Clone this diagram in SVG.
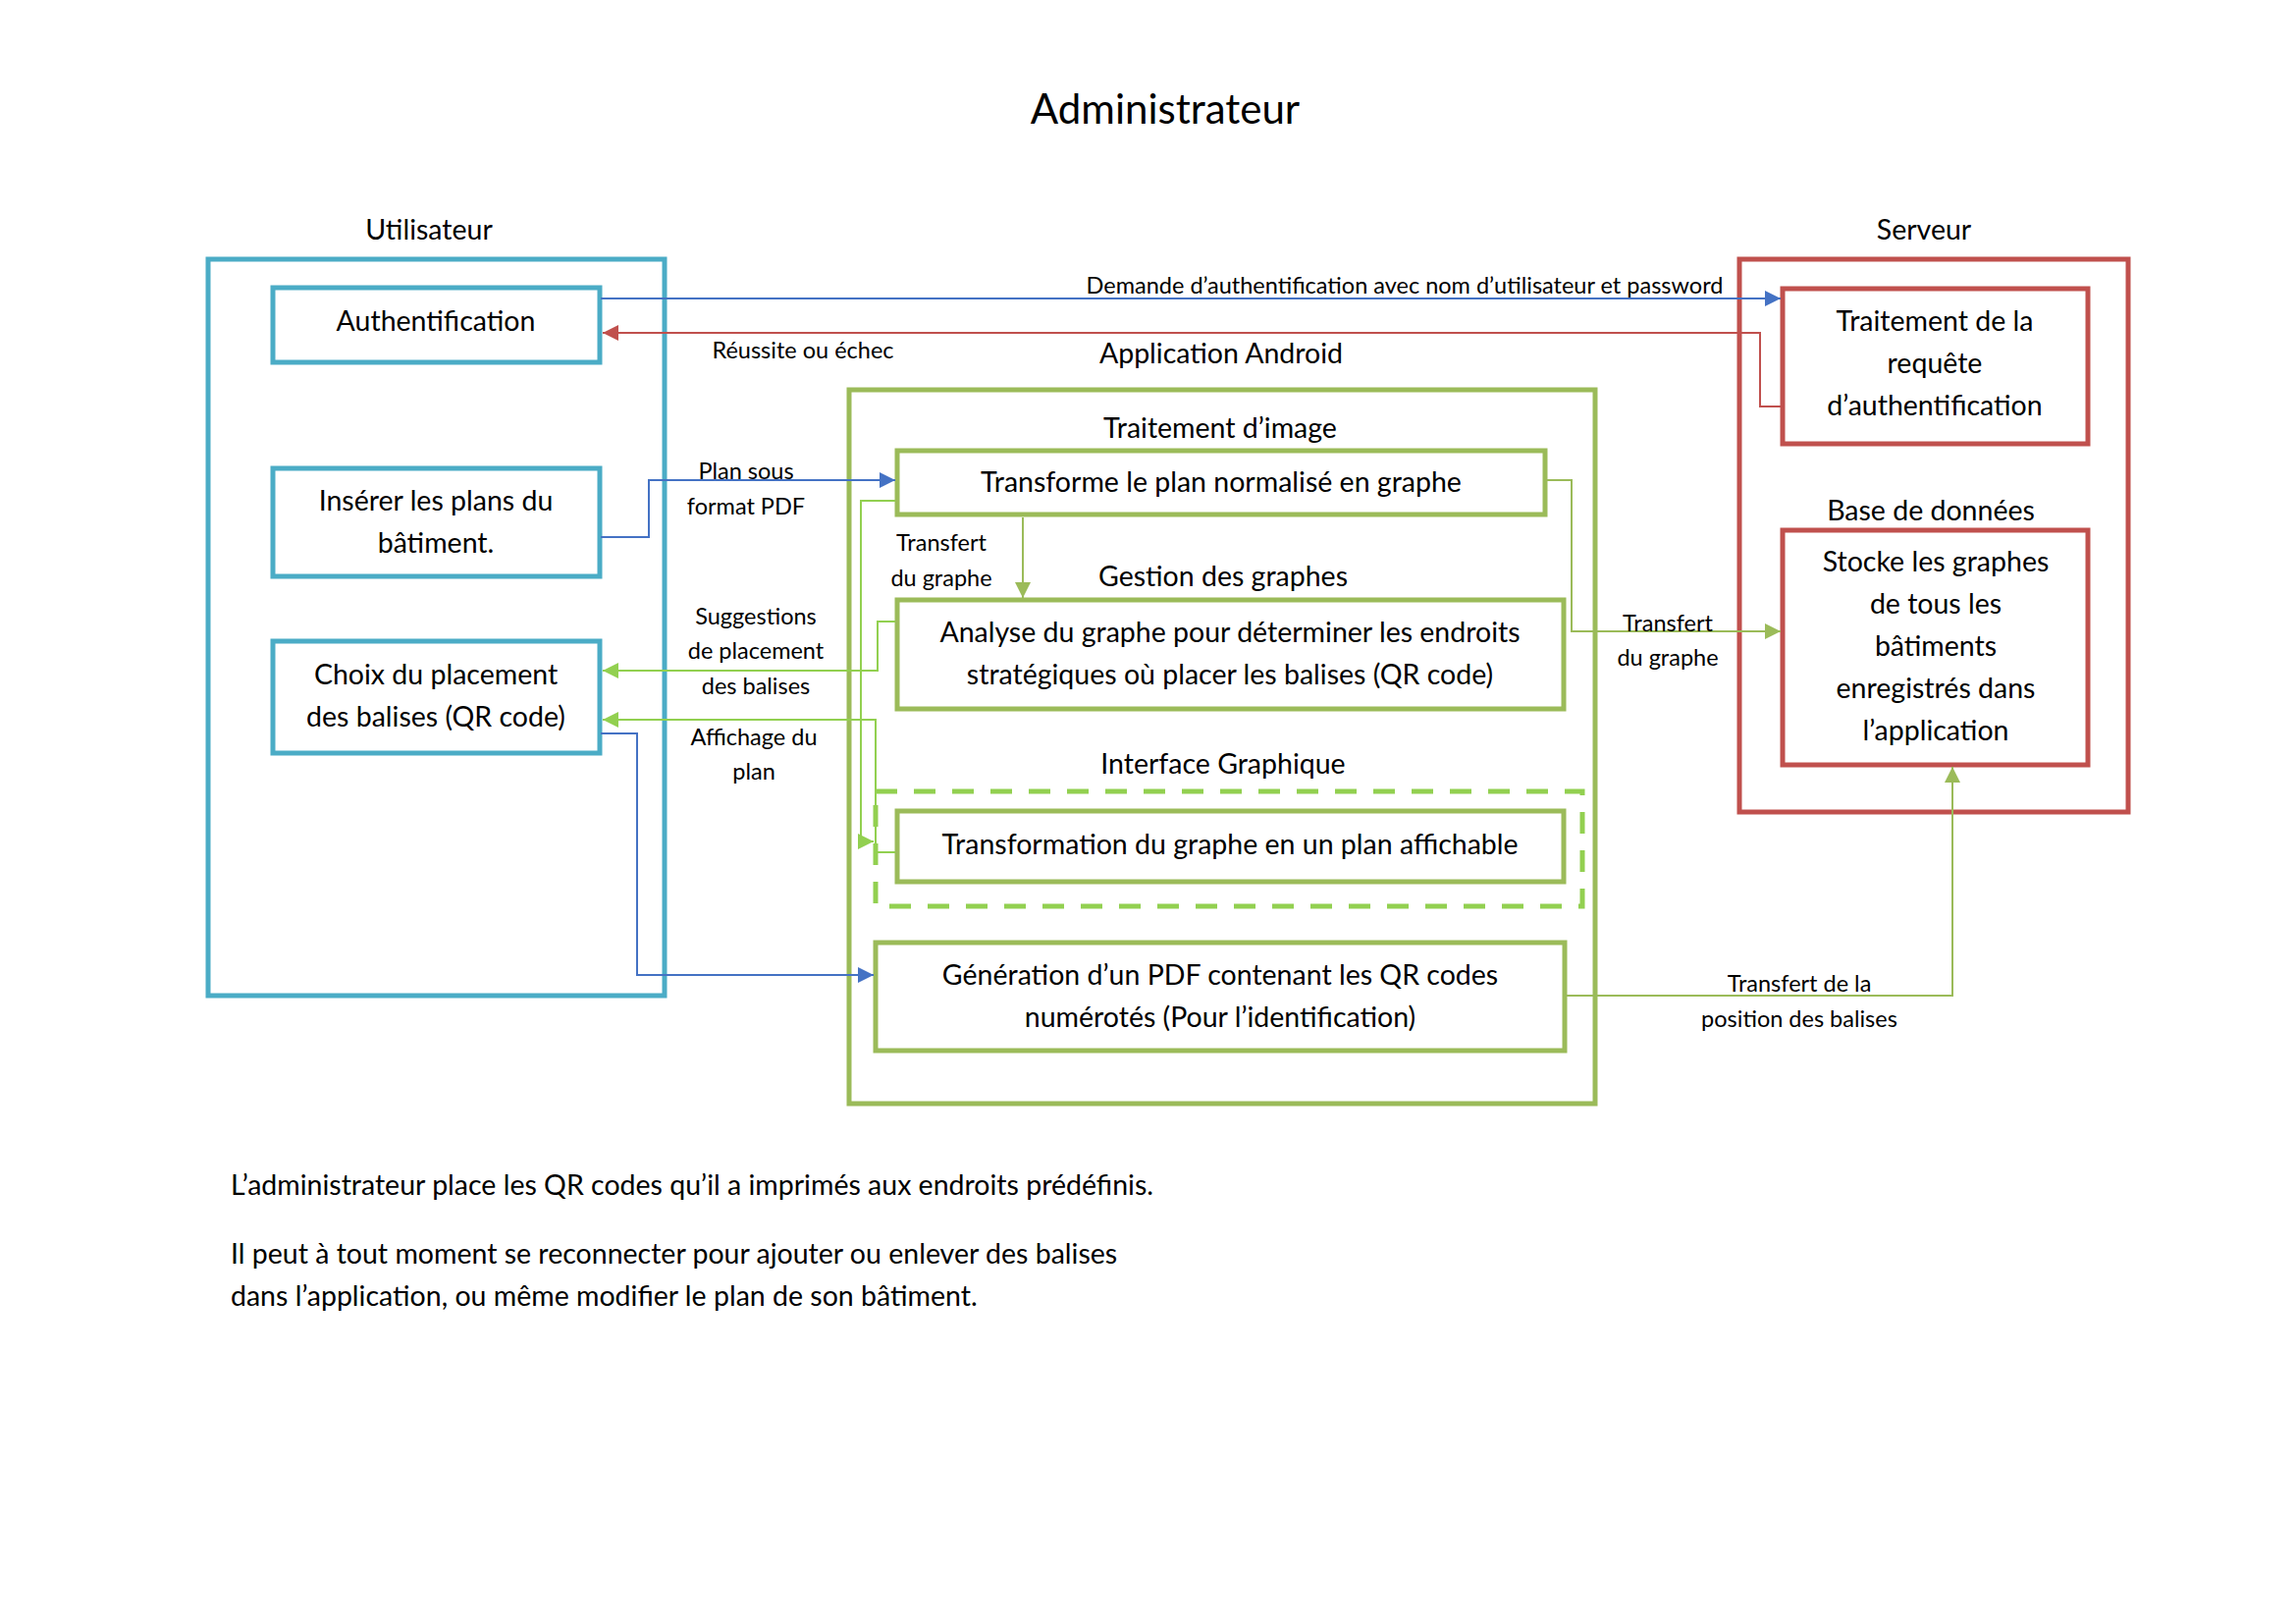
<svg xmlns="http://www.w3.org/2000/svg" width="2339" height="1654" viewBox="0 0 2339 1654">
<style>
text{font-family:Lato,"Open Sans","Liberation Sans",sans-serif;fill:#000}
.t{font-size:28.5px;text-anchor:middle}
.lbl{font-size:23.5px;text-anchor:middle}
.title{font-size:42px;text-anchor:middle}
.para{font-size:28.5px}
.bb{fill:#fff;stroke:#4BACC6;stroke-width:5}
.bg{fill:#fff;stroke:#9BBB59;stroke-width:5}
.br{fill:#fff;stroke:#C0504D;stroke-width:5}
.dash{fill:none;stroke:#92D050;stroke-width:5;stroke-dasharray:22 17}
.cb{fill:none;stroke:#4472C4;stroke-width:2}
.cr{fill:none;stroke:#C0504D;stroke-width:2}
.cg{fill:none;stroke:#9BBB59;stroke-width:2}
.cl{fill:none;stroke:#92D050;stroke-width:2}
</style>
<defs>
<marker id="ab" markerUnits="userSpaceOnUse" markerWidth="16" markerHeight="16" refX="16" refY="8" orient="auto" viewBox="0 0 16 16"><path d="M0,0 L16,8 L0,16 z" fill="#4472C4"/></marker>
<marker id="ar" markerUnits="userSpaceOnUse" markerWidth="16" markerHeight="16" refX="16" refY="8" orient="auto" viewBox="0 0 16 16"><path d="M0,0 L16,8 L0,16 z" fill="#C0504D"/></marker>
<marker id="ag" markerUnits="userSpaceOnUse" markerWidth="16" markerHeight="16" refX="16" refY="8" orient="auto" viewBox="0 0 16 16"><path d="M0,0 L16,8 L0,16 z" fill="#9BBB59"/></marker>
<marker id="al" markerUnits="userSpaceOnUse" markerWidth="16" markerHeight="16" refX="16" refY="8" orient="auto" viewBox="0 0 16 16"><path d="M0,0 L16,8 L0,16 z" fill="#92D050"/></marker>
</defs>
<rect width="2339" height="1654" fill="#fff"/>

<text class="title" x="1187" y="126">Administrateur</text>

<g id="utilisateur">
<text class="t" x="437" y="244">Utilisateur</text>
<rect class="bb" x="212" y="264" width="465" height="750"/>
</g>
<g id="authentification">
<rect class="bb" x="278" y="293" width="333" height="76"/>
<text class="t" x="444" y="337">Authentification</text>
</g>
<g id="inserer">
<rect class="bb" x="278" y="477" width="333" height="110"/>
<text class="t" x="444" y="520">Insérer les plans du</text>
<text class="t" x="444" y="563">bâtiment.</text>
</g>
<g id="choix">
<rect class="bb" x="278" y="653" width="333" height="114"/>
<text class="t" x="444" y="697">Choix du placement</text>
<text class="t" x="444" y="740">des balises (QR code)</text>
</g>

<g id="application">
<text class="t" x="1244" y="370">Application Android</text>
<rect class="bg" x="865" y="397" width="760" height="727"/>
</g>
<g id="traitement-image">
<text class="t" x="1243" y="446">Traitement d’image</text>
<rect class="bg" x="914" y="459" width="660" height="65"/>
<text class="t" x="1244" y="501">Transforme le plan normalisé en graphe</text>
</g>
<g id="gestion-graphes">
<text class="t" x="1246" y="597">Gestion des graphes</text>
<rect class="bg" x="914" y="611" width="679" height="111"/>
<text class="t" x="1253" y="654">Analyse du graphe pour déterminer les endroits</text>
<text class="t" x="1253" y="697">stratégiques où placer les balises (QR code)</text>
</g>
<g id="interface-graphique">
<text class="t" x="1246" y="788">Interface Graphique</text>
<rect class="dash" x="892" y="806" width="720" height="117"/>
<rect class="bg" x="914" y="826" width="679" height="72"/>
<text class="t" x="1253" y="870">Transformation du graphe en un plan affichable</text>
</g>
<g id="generation-pdf">
<rect class="bg" x="892" y="960" width="702" height="110"/>
<text class="t" x="1243" y="1003">Génération d’un PDF contenant les QR codes</text>
<text class="t" x="1243" y="1046">numérotés (Pour l’identification)</text>
</g>

<g id="serveur">
<text class="t" x="1960" y="244">Serveur</text>
<rect class="br" x="1772" y="264" width="396" height="563"/>
</g>
<g id="traitement-requete">
<rect class="br" x="1816" y="294" width="311" height="158"/>
<text class="t" x="1971" y="337">Traitement de la</text>
<text class="t" x="1971" y="380">requête</text>
<text class="t" x="1971" y="423">d’authentification</text>
</g>
<g id="base-de-donnees">
<text class="t" x="1967" y="530">Base de données</text>
<rect class="br" x="1816" y="540" width="311" height="239"/>
<text class="t" x="1972" y="582">Stocke les graphes</text>
<text class="t" x="1972" y="625">de tous les</text>
<text class="t" x="1972" y="668">bâtiments</text>
<text class="t" x="1972" y="711">enregistrés dans</text>
<text class="t" x="1972" y="754">l’application</text>
</g>

<g id="connectors">
<polyline class="cb" points="612,304 1814,304" marker-end="url(#ab)"/>
<text class="lbl" x="1431" y="299">Demande d’authentification avec nom d’utilisateur et password</text>
<polyline class="cr" points="1814,414 1793,414 1793,339 614,339" marker-end="url(#ar)"/>
<text class="lbl" x="818" y="365">Réussite ou échec</text>
<polyline class="cb" points="612,547 661,547 661,489 912,489" marker-end="url(#ab)"/>
<text class="lbl" x="760" y="488">Plan sous</text>
<text class="lbl" x="760" y="524">format PDF</text>
<polyline class="cg" points="1042,527 1042,609" marker-end="url(#ag)"/>
<text class="lbl" x="959" y="561">Transfert</text>
<text class="lbl" x="959" y="597">du graphe</text>
<polyline class="cl" points="912,510 877,510 877,857 890,857" marker-end="url(#al)"/>
<polyline class="cl" points="912,633 894,633 894,683 614,683" marker-end="url(#al)"/>
<text class="lbl" x="770" y="636">Suggestions</text>
<text class="lbl" x="770" y="671">de placement</text>
<text class="lbl" x="770" y="707">des balises</text>
<polyline class="cl" points="912,868 892,868 892,733 614,733" marker-end="url(#al)"/>
<text class="lbl" x="768" y="759">Affichage du</text>
<text class="lbl" x="768" y="794">plan</text>
<polyline class="cb" points="612,747 649,747 649,993 890,993" marker-end="url(#ab)"/>
<polyline class="cg" points="1576,489 1601,489 1601,643 1814,643" marker-end="url(#ag)"/>
<text class="lbl" x="1699" y="643">Transfert</text>
<text class="lbl" x="1699" y="678">du graphe</text>
<polyline class="cg" points="1596,1014 1989,1014 1989,781" marker-end="url(#ag)"/>
<text class="lbl" x="1833" y="1010">Transfert de la</text>
<text class="lbl" x="1833" y="1046">position des balises</text>
</g>

<g id="notes">
<text class="para" x="235" y="1217">L’administrateur place les QR codes qu’il a imprimés aux endroits prédéfinis.</text>
<text class="para" x="235" y="1287">Il peut à tout moment se reconnecter pour ajouter ou enlever des balises</text>
<text class="para" x="235" y="1330">dans l’application, ou même modifier le plan de son bâtiment.</text>
</g>
</svg>
